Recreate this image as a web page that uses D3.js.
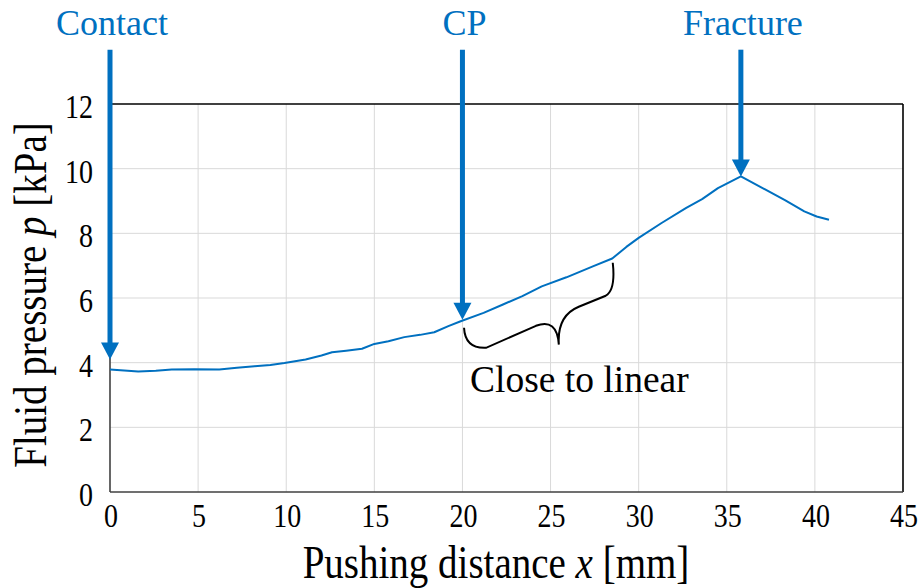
<!DOCTYPE html>
<html>
<head>
<meta charset="utf-8">
<script src="https://cdn.jsdelivr.net/npm/d3@7"></script>
<style>
  html, body { margin: 0; padding: 0; background: #fff; }
  .grid line { stroke: #d9d9d9; stroke-width: 1; }
</style>
</head>
<body>
<div id="chart"></div>
<script>
// Flüssigkeitsdruck über Schubweg, mit drei markierten Ereignissen

const distance = [0, 0.8, 1.6, 2.6, 3.5, 4.8, 6.2, 7.2, 8.2, 9.1, 9.9, 11.1, 12.0, 12.6, 13.4, 14.3,
  15.0, 15.8, 16.7, 17.6, 18.4, 19.2, 19.9, 21.2, 22.3, 23.4, 24.5, 25.9, 27.4, 28.5, 29.3, 30.0,
  31.3, 32.7, 33.6, 34.5, 35.8, 37.2, 38.3, 39.4, 40.1, 40.8];
const pressure = [3.79, 3.76, 3.73, 3.75, 3.79, 3.80, 3.79, 3.84, 3.89, 3.93, 3.99, 4.10, 4.22, 4.32,
  4.37, 4.43, 4.58, 4.66, 4.79, 4.86, 4.94, 5.13, 5.28, 5.54, 5.80, 6.06, 6.36, 6.64, 6.98, 7.22,
  7.58, 7.86, 8.32, 8.79, 9.06, 9.40, 9.76, 9.35, 9.03, 8.68, 8.52, 8.42];

const xTicks = [0, 5, 10, 15, 20, 25, 30, 35, 40, 45];
const yTicks = [0, 2, 4, 6, 8, 10, 12];

const markerNames = ["Contact", "CP", "Fracture"];
const markerX = [0, 20, 35.8];
const markerTip = [4.1, 5.33, 9.76];
const markerTop = 13.68;

const bracePts = [
  [20.09, 5.08], [20.15, 4.43], [21.34, 4.46], [24.17, 5.14], [25.36, 5.39], [25.47, 4.56],
  [25.36, 5.45], [26.6, 5.73], [28.13, 6.07], [28.7, 6.25], [28.53, 7.09]
];

const W = 922, H = 588;
const FONT = "'Liberation Serif', 'Times New Roman', Tinos, 'DejaVu Serif', serif";
const x = d3.scaleLinear().domain([0, 45]).range([110, 903]);
const y = d3.scaleLinear().domain([0, 12]).range([492, 104]);
const BLUE = "#0070c0";
const TALL = 1.2; // Achsentexte sind schmal/hoch gesetzt

const svg = d3.select("#chart").append("svg")
  .attr("width", W).attr("height", H).attr("viewBox", `0 0 ${W} ${H}`)
  .style("display", "block");

const grid = svg.append("g").attr("class", "grid");
grid.selectAll(".gx").data(xTicks.slice(1, -1)).join("line")
  .attr("x1", d => x(d)).attr("x2", d => x(d))
  .attr("y1", y(0)).attr("y2", y(12));
grid.selectAll(".gy").data(yTicks.slice(1, -1)).join("line")
  .attr("x1", x(0)).attr("x2", x(45))
  .attr("y1", d => y(d)).attr("y2", d => y(d));

// Rahmen
svg.append("line").attr("x1", x(0)).attr("x2", x(45)).attr("y1", y(12)).attr("y2", y(12))
  .attr("stroke", "#000").attr("stroke-width", 1.6);
svg.append("line").attr("x1", x(45)).attr("x2", x(45)).attr("y1", y(12)).attr("y2", y(0))
  .attr("stroke", "#000").attr("stroke-width", 1.6);
svg.append("line").attr("x1", x(0)).attr("x2", x(0)).attr("y1", y(12)).attr("y2", y(0))
  .attr("stroke", "#404040").attr("stroke-width", 1.6);
svg.append("line").attr("x1", x(0)).attr("x2", x(45)).attr("y1", y(0)).attr("y2", y(0))
  .attr("stroke", "#404040").attr("stroke-width", 1.6);

function label(sel) {
  return sel.attr("font-family", FONT).attr("fill", "#000");
}

svg.selectAll(".ty").data(yTicks).join("text")
  .call(label).attr("font-size", 28)
  .attr("transform", d => `translate(${x(0) - 17},${y(d) + 14}) scale(1,${TALL})`)
  .attr("text-anchor", "end")
  .text(d => d);
svg.selectAll(".tx").data(xTicks).join("text")
  .call(label).attr("font-size", 28)
  .attr("transform", d => `translate(${x(d) + 1},${y(0) + 34.5}) scale(1,${TALL})`)
  .attr("text-anchor", "middle")
  .text(d => d);

const xt = svg.append("text").call(label).attr("font-size", 39)
  .attr("transform", `translate(496,578) scale(1,1.17)`).attr("text-anchor", "middle");
xt.append("tspan").text("Pushing distance ");
xt.append("tspan").attr("font-style", "italic").text("x");
xt.append("tspan").text(" [mm]");

const yt = svg.append("text").call(label).attr("font-size", 39)
  .attr("transform", "translate(46,295) rotate(-90) scale(1,1.17)").attr("text-anchor", "middle");
yt.append("tspan").text("Fluid pressure ");
yt.append("tspan").attr("font-style", "italic").text("p");
yt.append("tspan").text(" [kPa]");

svg.append("path")
  .datum(distance.map((d, i) => [d, pressure[i]]))
  .attr("fill", "none").attr("stroke", BLUE).attr("stroke-width", 2)
  .attr("stroke-linejoin", "round")
  .attr("d", d3.line().x(d => x(d[0])).y(d => y(d[1])));

const b = bracePts.map(p => [x(p[0]), y(p[1])]);
const braceD = `M${b[0]} Q${b[1]} ${b[2]} L${b[3]} Q${b[4]} ${b[5]} Q${b[6]} ${b[7]} L${b[8]} Q${b[9]} ${b[10]}`;
svg.append("path").attr("d", braceD)
  .attr("fill", "none").attr("stroke", "#000").attr("stroke-width", 2);

svg.append("text").call(label).attr("font-size", 37.5)
  .attr("x", 470).attr("y", 392)
  .text("Close to linear");

const HEAD_H = 17, HEAD_W = 18;
markerNames.forEach((name, i) => {
  const px = x(markerX[i]);
  const tip = y(markerTip[i]);
  svg.append("line")
    .attr("x1", px).attr("x2", px)
    .attr("y1", y(markerTop)).attr("y2", tip - HEAD_H + 1)
    .attr("stroke", BLUE).attr("stroke-width", 5);
  svg.append("path")
    .attr("d", `M${px - HEAD_W / 2},${tip - HEAD_H} L${px + HEAD_W / 2},${tip - HEAD_H} L${px},${tip} Z`)
    .attr("fill", BLUE);
  svg.append("text").attr("font-family", FONT).attr("font-size", 36).attr("fill", BLUE)
    .attr("x", px + 2).attr("y", 35).attr("text-anchor", "middle")
    .text(name);
});
</script>
</body>
</html>
